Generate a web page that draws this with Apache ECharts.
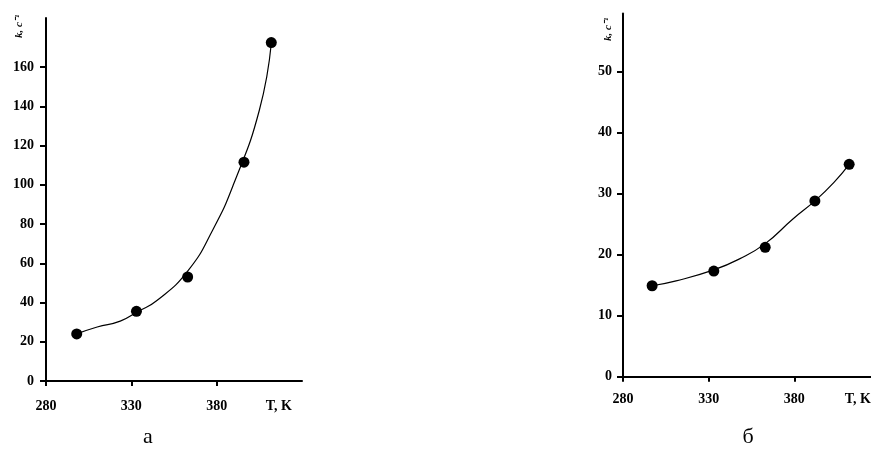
<!DOCTYPE html>
<html>
<head>
<meta charset="utf-8">
<script src="https://cdn.jsdelivr.net/npm/echarts@6/dist/echarts.min.js"></script>
<style>html,body{margin:0;padding:0;background:#fff}#c{width:871px;height:454px}</style>
</head>
<body>
<div id="c"></div>
<script>
// ---- data ----
const tA = [298, 333, 363, 396, 412];
const kA = [24, 35.5, 53, 111.5, 172.5];
const curveTA = [298, 310, 323.5, 334, 345, 363, 378, 390, 405, 412];
const curveKA = [24, 27.5, 30.5, 35.5, 41, 56, 77.5, 100.5, 138, 172];

const tB = [297, 333, 363, 392, 412];
const kB = [14.9, 17.3, 21.2, 28.8, 34.8];
const curveTB = [297, 311, 333, 348, 363, 379, 392, 403, 412];
const curveKB = [14.9, 15.7, 17.5, 19.3, 21.8, 25.8, 28.8, 31.8, 34.8];

const xTicks = [280, 330, 380];
const yTicksA = [0, 20, 40, 60, 80, 100, 120, 140, 160];
const yTicksB = [0, 10, 20, 30, 40, 50];
const xName = 'T, K';
const yName = 'k, с⁻¹';
const panelLabels = ['а', 'б'];

const zip = (a, b) => a.map((v, i) => [v, b[i]]);
const font = 'Liberation Serif';
const lab = { fontFamily: font, fontWeight: 'bold', fontSize: 14, color: '#000' };
const axLine = { lineStyle: { color: '#000', width: 2 } };

function xAxis(gridIndex, margin, nameGap) {
  return {
    type: 'value', gridIndex, min: 280, max: 430, interval: 50,
    splitLine: { show: false },
    axisLine: Object.assign({ onZero: false }, axLine),
    axisTick: { show: true, length: 5, customValues: xTicks, lineStyle: { color: '#000', width: 2 } },
    axisLabel: Object.assign({ margin, customValues: xTicks }, lab),
    name: xName, nameLocation: 'end', nameGap,
    nameTextStyle: Object.assign({ align: 'right', verticalAlign: 'top', padding: [margin, 0, 0, 0] }, lab)
  };
}
function yAxis(gridIndex, max, ticks, margin) {
  return {
    type: 'value', gridIndex, min: 0, max,
    splitLine: { show: false },
    axisLine: Object.assign({ onZero: false }, axLine),
    axisTick: { show: true, length: 6, customValues: ticks, lineStyle: { color: '#000', width: 2 } },
    axisLabel: Object.assign({ margin, customValues: ticks }, lab)
  };
}

const chart = echarts.init(document.getElementById('c'));
chart.setOption({
  animation: false,
  backgroundColor: '#fff',
  grid: [
    { left: 46, top: 18, width: 256, bottom: 73, outerBoundsMode: 'none', containLabel: false },
    { left: 623, top: 13.5, width: 257, bottom: 77.3, outerBoundsMode: 'none', containLabel: false }
  ],
  xAxis: [xAxis(0, 18, -10), xAxis(1, 16, -9)],
  yAxis: [yAxis(0, 185, yTicksA, 12), yAxis(1, 59.5, yTicksB, 11)],
  series: [
    { type: 'line', xAxisIndex: 0, yAxisIndex: 0, data: zip(curveTA, curveKA), smooth: true, showSymbol: false,
      lineStyle: { color: '#000', width: 1.2 } },
    { type: 'scatter', xAxisIndex: 0, yAxisIndex: 0, data: zip(tA, kA), symbol: 'circle', symbolSize: 11,
      itemStyle: { color: '#000', opacity: 1 } },
    { type: 'line', xAxisIndex: 1, yAxisIndex: 1, data: zip(curveTB, curveKB), smooth: true, showSymbol: false,
      lineStyle: { color: '#000', width: 1.2 } },
    { type: 'scatter', xAxisIndex: 1, yAxisIndex: 1, data: zip(tB, kB), symbol: 'circle', symbolSize: 11,
      itemStyle: { color: '#000', opacity: 1 } }
  ],
  graphic: [
    { type: 'text', x: 148, y: 437, style: { text: panelLabels[0], font: '22px "Liberation Serif"', fill: '#000', align: 'center', verticalAlign: 'middle' } },
    { type: 'text', x: 748, y: 437, style: { text: panelLabels[1], font: '22px "Liberation Serif"', fill: '#000', align: 'center', verticalAlign: 'middle' } },
    { type: 'text', x: 19, y: 38, rotation: Math.PI / 2, style: { text: yName, font: 'italic bold 11px "Liberation Serif"', fill: '#000', align: 'left', verticalAlign: 'middle' } },
    { type: 'text', x: 608, y: 41, rotation: Math.PI / 2, style: { text: yName, font: 'italic bold 11px "Liberation Serif"', fill: '#000', align: 'left', verticalAlign: 'middle' } }
  ]
});
</script>
</body>
</html>
